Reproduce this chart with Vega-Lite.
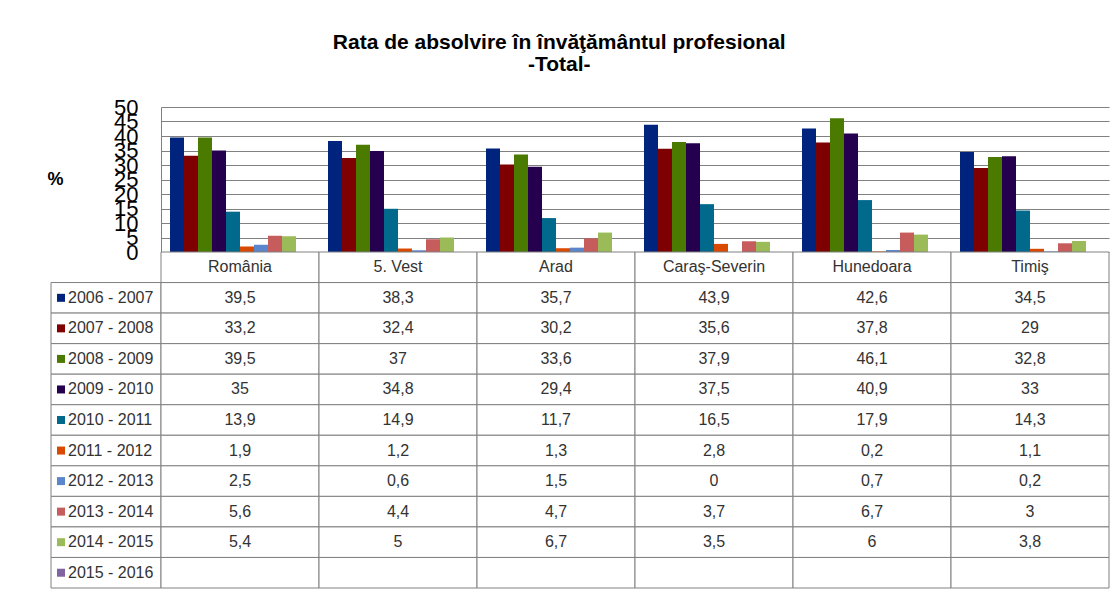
{
  "$schema": "https://vega.github.io/schema/vega-lite/v6.json",
  "background": "white",
  "padding": {"left": 46, "top": 32, "right": 5, "bottom": 0},
  "title": {
    "text": ["Rata de absolvire în învăţământul profesional", "-Total-"],
    "font": "Liberation Sans",
    "fontSize": 21,
    "fontWeight": "bold",
    "color": "#000000",
    "lineHeight": 22,
    "anchor": "middle",
    "dx": -19,
    "offset": 21
  },
  "datasets": {
    "t": [
      {"region": "România", "year": "2006 - 2007", "value": 39.5},
      {"region": "România", "year": "2007 - 2008", "value": 33.2},
      {"region": "România", "year": "2008 - 2009", "value": 39.5},
      {"region": "România", "year": "2009 - 2010", "value": 35},
      {"region": "România", "year": "2010 - 2011", "value": 13.9},
      {"region": "România", "year": "2011 - 2012", "value": 1.9},
      {"region": "România", "year": "2012 - 2013", "value": 2.5},
      {"region": "România", "year": "2013 - 2014", "value": 5.6},
      {"region": "România", "year": "2014 - 2015", "value": 5.4},
      {"region": "România", "year": "2015 - 2016", "value": null},
      {"region": "5. Vest", "year": "2006 - 2007", "value": 38.3},
      {"region": "5. Vest", "year": "2007 - 2008", "value": 32.4},
      {"region": "5. Vest", "year": "2008 - 2009", "value": 37},
      {"region": "5. Vest", "year": "2009 - 2010", "value": 34.8},
      {"region": "5. Vest", "year": "2010 - 2011", "value": 14.9},
      {"region": "5. Vest", "year": "2011 - 2012", "value": 1.2},
      {"region": "5. Vest", "year": "2012 - 2013", "value": 0.6},
      {"region": "5. Vest", "year": "2013 - 2014", "value": 4.4},
      {"region": "5. Vest", "year": "2014 - 2015", "value": 5},
      {"region": "5. Vest", "year": "2015 - 2016", "value": null},
      {"region": "Arad", "year": "2006 - 2007", "value": 35.7},
      {"region": "Arad", "year": "2007 - 2008", "value": 30.2},
      {"region": "Arad", "year": "2008 - 2009", "value": 33.6},
      {"region": "Arad", "year": "2009 - 2010", "value": 29.4},
      {"region": "Arad", "year": "2010 - 2011", "value": 11.7},
      {"region": "Arad", "year": "2011 - 2012", "value": 1.3},
      {"region": "Arad", "year": "2012 - 2013", "value": 1.5},
      {"region": "Arad", "year": "2013 - 2014", "value": 4.7},
      {"region": "Arad", "year": "2014 - 2015", "value": 6.7},
      {"region": "Arad", "year": "2015 - 2016", "value": null},
      {"region": "Caraş-Severin", "year": "2006 - 2007", "value": 43.9},
      {"region": "Caraş-Severin", "year": "2007 - 2008", "value": 35.6},
      {"region": "Caraş-Severin", "year": "2008 - 2009", "value": 37.9},
      {"region": "Caraş-Severin", "year": "2009 - 2010", "value": 37.5},
      {"region": "Caraş-Severin", "year": "2010 - 2011", "value": 16.5},
      {"region": "Caraş-Severin", "year": "2011 - 2012", "value": 2.8},
      {"region": "Caraş-Severin", "year": "2012 - 2013", "value": 0},
      {"region": "Caraş-Severin", "year": "2013 - 2014", "value": 3.7},
      {"region": "Caraş-Severin", "year": "2014 - 2015", "value": 3.5},
      {"region": "Caraş-Severin", "year": "2015 - 2016", "value": null},
      {"region": "Hunedoara", "year": "2006 - 2007", "value": 42.6},
      {"region": "Hunedoara", "year": "2007 - 2008", "value": 37.8},
      {"region": "Hunedoara", "year": "2008 - 2009", "value": 46.1},
      {"region": "Hunedoara", "year": "2009 - 2010", "value": 40.9},
      {"region": "Hunedoara", "year": "2010 - 2011", "value": 17.9},
      {"region": "Hunedoara", "year": "2011 - 2012", "value": 0.2},
      {"region": "Hunedoara", "year": "2012 - 2013", "value": 0.7},
      {"region": "Hunedoara", "year": "2013 - 2014", "value": 6.7},
      {"region": "Hunedoara", "year": "2014 - 2015", "value": 6},
      {"region": "Hunedoara", "year": "2015 - 2016", "value": null},
      {"region": "Timiş", "year": "2006 - 2007", "value": 34.5},
      {"region": "Timiş", "year": "2007 - 2008", "value": 29},
      {"region": "Timiş", "year": "2008 - 2009", "value": 32.8},
      {"region": "Timiş", "year": "2009 - 2010", "value": 33},
      {"region": "Timiş", "year": "2010 - 2011", "value": 14.3},
      {"region": "Timiş", "year": "2011 - 2012", "value": 1.1},
      {"region": "Timiş", "year": "2012 - 2013", "value": 0.2},
      {"region": "Timiş", "year": "2013 - 2014", "value": 3},
      {"region": "Timiş", "year": "2014 - 2015", "value": 3.8},
      {"region": "Timiş", "year": "2015 - 2016", "value": null}
    ]
  },
  "data": {"name": "t"},
  "columns": 2,
  "spacing": 0,
  "bounds": "flush",
  "align": "each",
  "concat": [
    {
      "width": 110,
      "height": 145,
      "data": {"values": [{"blank": ""}]},
      "mark": {"type": "text"},
      "encoding": {"text": {"field": "blank", "type": "nominal"}}
    },
    {
      "width": 948,
      "height": 145,
      "mark": {"type": "bar"},
      "encoding": {
        "x": {
          "field": "region",
          "type": "nominal",
          "sort": null,
          "scale": {"domain": ["România", "5. Vest", "Arad", "Caraş-Severin", "Hunedoara", "Timiş"], "paddingInner": 0.114, "paddingOuter": 0.057},
          "axis": null
        },
        "xOffset": {
          "field": "year",
          "type": "nominal",
          "scale": {"domain": ["2006 - 2007", "2007 - 2008", "2008 - 2009", "2009 - 2010", "2010 - 2011", "2011 - 2012", "2012 - 2013", "2013 - 2014", "2014 - 2015", "2015 - 2016"], "paddingInner": 0, "paddingOuter": 0}
        },
        "y": {
          "field": "value",
          "type": "quantitative",
          "scale": {"domain": [0, 50], "nice": false},
          "axis": {
            "values": [0, 5, 10, 15, 20, 25, 30, 35, 40, 45, 50],
            "title": "%",
            "titleAngle": 0,
            "titleX": -106,
            "titleY": 72,
            "titleAlign": "center",
            "titleBaseline": "middle",
            "titleFont": "Liberation Sans",
            "titleFontSize": 18,
            "titleFontWeight": "bold",
            "titleColor": "#000000",
            "labelFont": "Liberation Sans",
            "labelFontSize": 22,
            "labelColor": "#000000",
            "labelPadding": 23,
            "labelOverlap": false,
            "labelFlush": false,
            "labelBound": false,
            "ticks": false,
            "domain": true,
            "domainColor": "#808080",
            "domainWidth": 1,
            "grid": true,
            "gridColor": "#808080",
            "gridOpacity": 1,
            "gridWidth": 1
          }
        },
        "color": {
          "field": "year",
          "type": "nominal",
          "scale": {
            "domain": ["2006 - 2007", "2007 - 2008", "2008 - 2009", "2009 - 2010", "2010 - 2011", "2011 - 2012", "2012 - 2013", "2013 - 2014", "2014 - 2015", "2015 - 2016"],
            "range": ["#00247D", "#7F0000", "#4A7A00", "#25004F", "#00698C", "#D94A00", "#5B86CC", "#C65C5C", "#9BBB59", "#8064A2"]
          },
          "legend": null
        }
      }
    },
    {
      "width": 110,
      "height": 336,
      "transform": [{"filter": "datum.region === 'România'"}],
      "encoding": {
        "y": {
          "field": "year",
          "type": "nominal",
          "scale": {"domain": ["header", "2006 - 2007", "2007 - 2008", "2008 - 2009", "2009 - 2010", "2010 - 2011", "2011 - 2012", "2012 - 2013", "2013 - 2014", "2014 - 2015", "2015 - 2016"], "paddingInner": 0, "paddingOuter": 0},
          "axis": null
        }
      },
      "layer": [
        {
          "mark": {"type": "rect", "fill": "white", "stroke": "#808080", "strokeWidth": 1},
          "encoding": {
            "x": {"datum": 0, "type": "quantitative", "scale": {"domain": [0, 110], "nice": false, "zero": false}, "axis": null},
            "x2": {"datum": 110}
          }
        },
        {
          "mark": {"type": "point", "shape": "square", "filled": true, "size": 64, "opacity": 1},
          "encoding": {
            "x": {"datum": 10, "type": "quantitative"},
            "color": {
              "field": "year",
              "type": "nominal",
              "scale": {
                "domain": ["2006 - 2007", "2007 - 2008", "2008 - 2009", "2009 - 2010", "2010 - 2011", "2011 - 2012", "2012 - 2013", "2013 - 2014", "2014 - 2015", "2015 - 2016"],
                "range": ["#00247D", "#7F0000", "#4A7A00", "#25004F", "#00698C", "#D94A00", "#5B86CC", "#C65C5C", "#9BBB59", "#8064A2"]
              },
              "legend": null
            }
          }
        },
        {
          "mark": {"type": "text", "align": "left", "baseline": "middle", "font": "Liberation Sans", "fontSize": 16, "color": "#333333"},
          "encoding": {
            "x": {"datum": 17, "type": "quantitative"},
            "text": {"field": "year", "type": "nominal"}
          }
        }
      ]
    },
    {
      "width": 948,
      "height": 336,
      "encoding": {
        "x": {
          "field": "region",
          "type": "nominal",
          "sort": null,
          "scale": {"domain": ["România", "5. Vest", "Arad", "Caraş-Severin", "Hunedoara", "Timiş"], "paddingInner": 0, "paddingOuter": 0},
          "axis": null
        }
      },
      "layer": [
        {
          "mark": {"type": "rect", "fill": "white", "stroke": "#808080", "strokeWidth": 1},
          "encoding": {
            "y": {
              "field": "year",
              "type": "nominal",
              "scale": {"domain": ["header", "2006 - 2007", "2007 - 2008", "2008 - 2009", "2009 - 2010", "2010 - 2011", "2011 - 2012", "2012 - 2013", "2013 - 2014", "2014 - 2015", "2015 - 2016"], "paddingInner": 0, "paddingOuter": 0},
              "axis": null
            }
          }
        },
        {
          "transform": [{"filter": "datum.year === '2006 - 2007'"}],
          "mark": {"type": "rect", "fill": "white", "stroke": "#808080", "strokeWidth": 1},
          "encoding": {"y": {"datum": "header", "type": "nominal"}}
        },
        {
          "transform": [{"filter": "isValid(datum.value)"}],
          "mark": {"type": "text", "align": "center", "baseline": "middle", "font": "Liberation Sans", "fontSize": 16, "color": "#333333"},
          "encoding": {
            "y": {"field": "year", "type": "nominal"},
            "text": {"field": "value", "type": "quantitative", "format": "~f"}
          }
        },
        {
          "transform": [{"filter": "datum.year === '2006 - 2007'"}],
          "mark": {"type": "text", "align": "center", "baseline": "middle", "font": "Liberation Sans", "fontSize": 16, "color": "#333333"},
          "encoding": {
            "y": {"datum": "header", "type": "nominal"},
            "text": {"field": "region", "type": "nominal"}
          }
        }
      ]
    }
  ],
  "config": {
    "view": {"stroke": null},
    "locale": {"number": {"decimal": ",", "thousands": ".", "grouping": [3], "currency": ["", ""]}}
  }
}
